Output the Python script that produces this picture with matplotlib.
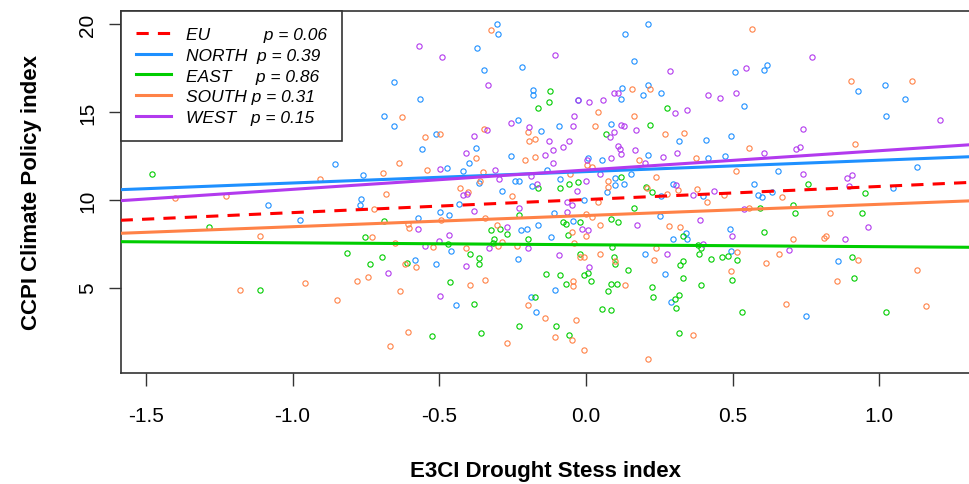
import matplotlib
matplotlib.use("Agg")
import matplotlib.pyplot as plt
from matplotlib.lines import Line2D

plt.rcParams['font.family'] = ['Liberation Sans', 'DejaVu Sans']

# ---------------- data ----------------
regions = ["EU", "NORTH", "EAST", "SOUTH", "WEST"]
p_values = ["0.06", "0.39", "0.86", "0.31", "0.15"]
intercepts = [10.02, 11.61, 7.445, 9.11, 11.70]
slopes = [0.745, 0.648, -0.11, 0.638, 1.10]

x_ticks = [-1.5, -1.0, -0.5, 0.0, 0.5, 1.0]
y_ticks = [5, 10, 15, 20]

north_x = [-0.857, -1.083, -0.974, -0.770, -0.766, -0.760, -0.688, -0.655, -0.655, -0.565,
           -0.511, -0.559, -0.574, -0.584, -0.510, -0.373, -0.304, -0.299, -0.349, -0.218,
           -0.180, -0.180, -0.026, -0.092, -0.232, -0.154, -0.376, -0.400, -0.257, 0.008,
           -0.473, -0.420, -0.365, -0.243, -0.228, -0.132, -0.089, -0.184, -0.285, -0.434,
           -0.006, -0.498, -0.467, -0.108, -0.043, -0.223, -0.202, -0.165, -0.120, -0.461,
           -0.232, -0.107, -0.188, -0.444, -0.169, 0.210, 0.133, 0.163, 0.507, 0.211,
           0.124, 0.195, 0.255, 0.118, 0.085, 0.316, 0.408, 0.494, 0.210, 0.056,
           0.417, 0.474, 0.152, 0.100, 0.100, 0.128, 0.297, 0.071, 0.255, 0.398,
           0.253, 0.490, 0.340, 0.345, 0.298, 0.201, 0.493, 0.268, 0.289, 0.606,
           0.616, 0.537, 0.928, 1.019, 1.086, 1.024, 1.129, 0.653, 0.573, 1.047,
           0.634, 0.585, 0.600, 0.860, 0.750]
north_y = [12.06, 9.71, 8.84, 9.71, 10.03, 11.42, 14.78, 14.21, 16.70, 15.75,
           13.74, 12.92, 8.99, 6.58, 6.33, 18.63, 20.00, 19.43, 17.41, 17.59,
           16.24, 15.97, 15.69, 14.21, 14.53, 13.91, 12.94, 12.12, 12.52, 12.40,
           11.82, 11.65, 10.96, 11.09, 11.09, 11.69, 11.17, 10.79, 10.51, 9.78,
           9.98, 9.33, 9.14, 9.24, 8.78, 8.27, 8.36, 8.59, 7.89, 7.07,
           6.65, 4.89, 4.47, 4.02, 3.63, 20.00, 19.43, 17.89, 17.27, 16.56,
           16.39, 15.99, 16.07, 15.75, 14.31, 13.34, 13.41, 13.64, 12.54, 12.29,
           12.37, 12.52, 11.48, 11.23, 10.85, 10.92, 10.92, 10.45, 10.21, 10.21,
           9.08, 8.36, 8.12, 7.79, 7.79, 6.92, 7.07, 5.80, 4.19, 17.40,
           17.68, 15.33, 16.22, 16.54, 15.75, 14.78, 11.87, 11.65, 10.92, 10.68,
           10.43, 10.28, 10.18, 6.50, 3.37]

east_x = [-1.478, -1.286, -1.111, -0.815, -0.737, -0.694, -0.752, -0.690, -0.611, -0.525,
          -0.122, -0.127, -0.165, -0.059, -0.026, -0.165, -0.089, -0.227, -0.078, -0.068,
          -0.020, -0.293, -0.325, -0.270, -0.314, -0.060, -0.199, -0.318, -0.469, -0.395,
          -0.366, -0.366, -0.019, -0.136, -0.088, -0.006, 0.008, -0.464, -0.069, -0.173,
          -0.382, -0.227, -0.102, -0.358, -0.059, 0.277, 0.219, 0.067, 0.118, 0.203,
          0.225, 0.163, 0.085, 0.110, 0.331, 0.090, 0.383, 0.393, 0.384, 0.095,
          0.100, 0.332, 0.321, 0.427, 0.465, 0.484, 0.515, 0.143, 0.018, 0.085,
          0.105, 0.331, 0.393, 0.499, 0.225, 0.076, 0.229, 0.316, 0.304, 0.056,
          0.085, 0.307, 0.316, 0.758, 0.952, 0.594, 0.707, 0.711, 0.942, 0.606,
          0.907, 0.912, 0.532, 1.024]
east_y = [11.49, 8.44, 4.89, 6.98, 6.33, 6.75, 7.87, 8.78, 6.42, 2.25,
          16.22, 15.59, 15.25, 10.92, 11.00, 10.70, 10.70, 9.14, 8.74, 8.61,
          8.74, 8.36, 8.27, 8.04, 7.79, 7.98, 7.79, 7.56, 7.47, 6.90,
          6.67, 6.33, 6.94, 5.80, 5.71, 5.71, 5.85, 5.31, 5.23, 4.47,
          4.09, 2.82, 2.82, 2.40, 2.32, 15.25, 14.28, 13.74, 11.32, 10.75,
          10.47, 9.56, 8.93, 8.74, 7.96, 7.32, 7.41, 7.24, 6.90, 6.77,
          6.35, 6.52, 6.28, 6.65, 6.75, 6.81, 6.58, 6.03, 5.40, 5.23,
          5.23, 5.54, 5.14, 5.46, 5.06, 4.81, 4.49, 4.58, 4.34, 3.79,
          3.71, 3.86, 2.42, 10.92, 10.38, 9.56, 9.73, 9.24, 9.24, 8.17,
          6.75, 5.54, 3.62, 3.62]

south_x = [-0.906, -1.401, -1.228, -1.112, -1.179, -0.958, -0.849, -0.782, -0.742, -0.728,
           -0.681, -0.693, -0.636, -0.626, -0.550, -0.497, -0.541, -0.651, -0.607, -0.603,
           -0.521, -0.616, -0.578, -0.635, -0.607, -0.669, -0.722, -0.494, -0.325, -0.198,
           -0.349, -0.194, -0.174, -0.376, -0.208, -0.174, 0.003, -0.352, -0.360, -0.055,
           -0.429, -0.401, -0.251, -0.343, -0.001, -0.304, -0.049, -0.001, -0.285, -0.299,
           -0.236, -0.040, -0.410, -0.020, -0.006, -0.343, -0.395, -0.043, -0.043, -0.199,
           -0.140, -0.035, -0.107, -0.049, -0.270, -0.007, 0.156, 0.219, 0.042, 0.163,
           0.032, 0.268, 0.335, 0.182, 0.374, 0.021, 0.510, 0.240, 0.075, 0.075,
           0.208, 0.313, 0.378, 0.277, 0.412, 0.470, 0.042, 0.021, 0.047, 0.282,
           0.320, 0.239, 0.047, 0.514, 0.100, 0.231, 0.494, 0.134, 0.365, 0.210,
           0.566, 0.902, 1.111, 0.917, 0.557, 0.667, 0.557, 0.832, 0.706, 0.811,
           0.817, 0.657, 0.614, 0.928, 1.129, 0.854, 0.682, 1.158]
south_y = [11.17, 10.11, 10.24, 7.94, 4.89, 5.28, 4.32, 5.36, 5.63, 7.87,
           10.35, 11.55, 12.12, 14.70, 13.58, 13.74, 11.72, 7.53, 8.63, 8.42,
           7.32, 6.33, 6.18, 4.81, 2.49, 1.68, 9.48, 8.87, 19.68, 13.88,
           14.05, 13.34, 13.49, 12.37, 12.29, 12.44, 11.97, 11.57, 11.08, 11.46,
           10.70, 10.47, 10.21, 8.99, 9.21, 8.59, 8.19, 7.94, 7.62, 7.38,
           7.36, 7.56, 7.24, 6.77, 6.77, 5.46, 5.14, 5.38, 5.11, 4.02,
           3.29, 3.14, 2.18, 2.02, 1.83, 1.45, 16.30, 16.30, 15.02, 14.78,
           14.21, 13.74, 13.81, 12.29, 12.37, 11.89, 11.65, 11.32, 11.08, 10.75,
           10.68, 10.55, 10.60, 10.35, 9.88, 10.26, 9.88, 9.01, 8.59, 8.53,
           8.46, 7.28, 6.92, 7.03, 6.50, 6.58, 5.95, 5.14, 2.32, 0.96,
           19.75, 16.79, 16.79, 13.17, 12.94, 10.18, 9.56, 9.24, 7.79, 7.81,
           7.96, 6.90, 6.42, 6.58, 6.03, 5.38, 4.09, 3.94]

west_x = [-0.568, -0.573, -0.550, -0.675, -0.497, -0.501, -0.492, -0.334, -0.107, -0.026,
          0.011, -0.040, -0.044, -0.257, -0.194, -0.336, -0.382, -0.127, -0.058, -0.078,
          -0.111, -0.410, -0.141, -0.111, 0.002, -0.498, -0.309, -0.297, -0.186, -0.001,
          -0.168, -0.032, -0.420, -0.407, -0.227, -0.065, -0.048, -0.381, -0.064, -0.270,
          -0.013, 0.008, -0.468, -0.199, -0.332, -0.093, -0.410, 0.010, 0.287, 0.512,
          0.417, 0.456, 0.095, 0.110, 0.057, 0.302, 0.344, 0.118, 0.130, 0.171,
          0.096, 0.082, 0.108, 0.115, 0.119, 0.167, 0.311, 0.263, 0.085, 0.201,
          0.047, 0.306, 0.436, 0.365, 0.173, 0.389, 0.499, 0.399, 0.277, 0.769,
          0.546, 1.207, 0.740, 0.606, 0.716, 0.729, 0.740, 0.890, 0.908, 0.897,
          0.537, 0.961, 0.884, 0.692]
west_y = [18.78, 8.34, 7.38, 5.85, 4.51, 7.66, 18.14, 16.54, 18.23, 15.69,
          15.59, 14.78, 14.21, 14.38, 14.13, 13.98, 13.64, 13.34, 13.34, 13.01,
          12.86, 12.69, 12.54, 12.12, 12.27, 11.74, 11.72, 11.17, 11.36, 11.08,
          10.92, 10.49, 10.28, 10.35, 9.56, 9.88, 9.71, 9.39, 9.31, 8.44,
          8.36, 8.27, 7.98, 7.24, 7.24, 6.85, 6.25, 6.18, 17.34, 16.07,
          15.99, 15.82, 16.07, 16.07, 15.67, 14.93, 15.10, 14.28, 14.21, 13.98,
          13.88, 13.58, 13.09, 12.92, 12.60, 12.84, 12.69, 12.44, 12.37, 12.10,
          11.48, 10.83, 10.51, 10.28, 8.59, 8.84, 7.94, 7.51, 6.92, 18.16,
          17.49, 14.53, 14.05, 12.69, 12.88, 13.01, 11.48, 11.26, 11.42, 10.81,
          9.47, 8.44, 7.79, 7.16]

# ---------------- style ----------------
colors = {"EU": "#FF0000", "NORTH": "#1E90FF", "EAST": "#00CD00",
          "SOUTH": "#FF8247", "WEST": "#B23AEE"}
label_pad = [11, 2, 5, 1, 3]

fig = plt.figure(figsize=(9.7, 4.85), dpi=100)
ax = fig.add_axes([0.1244, 0.2289, 0.8756, 0.7464])

point_sets = [("NORTH", north_x, north_y), ("EAST", east_x, east_y),
              ("SOUTH", south_x, south_y), ("WEST", west_x, west_y)]
for name, xs, ys in point_sets:
    ax.plot(xs, ys, linestyle='none', marker='o', markersize=3.8,
            markerfacecolor='none', markeredgecolor=colors[name],
            markeredgewidth=0.8, zorder=2)

handles = []
labels = []
for i, name in enumerate(regions):
    ls = (0, (4, 3)) if name == "EU" else '-'
    ax.axline((0, intercepts[i]), slope=slopes[i], color=colors[name],
              linewidth=2.2, linestyle=ls, zorder=3 if name != "EU" else 4)
    handles.append(Line2D([], [], color=colors[name], linewidth=2.2, linestyle=ls))
    labels.append(name + " " * label_pad[i] + "p = " + p_values[i])

ax.set_xlim(-1.586, 1.309)
ax.set_ylim(0.142, 20.758)
ax.set_xticks(x_ticks)
ax.set_xticklabels([f"{v:.1f}" for v in x_ticks])
ax.set_yticks(y_ticks)
ax.set_yticklabels([str(v) for v in y_ticks])
for lbl in ax.get_yticklabels():
    lbl.set_rotation(90)
    lbl.set_va('center')

ax.tick_params(axis='both', direction='out', length=9, width=1.0,
               labelsize=15, color='#333333')
ax.tick_params(axis='x', pad=15)
ax.tick_params(axis='y', pad=8)

for side in ['left', 'bottom', 'top']:
    ax.spines[side].set_linewidth(1.2)
    ax.spines[side].set_color('#333333')
ax.spines['right'].set_visible(False)

ax.set_xlabel("E3CI Drought Stess index", fontsize=16, fontweight='bold', labelpad=25)
ax.set_ylabel("CCPI Climate Policy index", fontsize=16, fontweight='bold', labelpad=26)

leg = ax.legend(handles, labels, loc='upper left', bbox_to_anchor=(0, 1),
                borderaxespad=0, frameon=True, fancybox=False,
                prop={'style': 'italic', 'size': 12.5},
                handlelength=2.0, handletextpad=0.85, labelspacing=0.33,
                borderpad=0.9)
leg.get_frame().set_edgecolor('#333333')
leg.get_frame().set_linewidth(1.2)
leg.get_frame().set_alpha(1)

fig.savefig("out.png", dpi=100)
